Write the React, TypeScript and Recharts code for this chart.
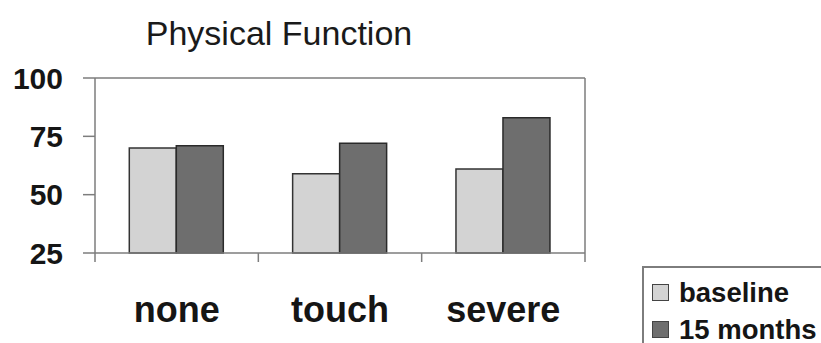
import React from 'react'
import { BarChart, Bar, XAxis, YAxis } from 'recharts'

const groups = ['none', 'touch', 'severe']
const baseline = [70, 59, 61]
const months15 = [71, 72, 83]
const yTicks = [25, 50, 75, 100]
const seriesNames = ['baseline', '15 months']
const seriesFills = ['#d3d3d3', '#6e6e6e']

const data = groups.map((g, i) => ({ group: g, baseline: baseline[i], months15: months15[i] }))

const FONT = '"Liberation Sans", Arial, Helvetica, sans-serif'
const AXIS = '#7d7d7d'
const LABEL_GAP = 43
const MARK_LEN = 9

// category label plus small tick marks at the band edges
function GroupTick(props: any) {
    const { x, y, payload, index, visibleTicksCount } = props
    const half = payload.offset || 0
    const axisY = y - LABEL_GAP
    const marks = [x - half]
    if (index === visibleTicksCount - 1) marks.push(x + half)
    return (
        <g>
            {marks.map((mx) => (
                <line key={mx} x1={mx} x2={mx} y1={axisY} y2={axisY + MARK_LEN} stroke={AXIS} strokeWidth={1.5} />
            ))}
            <text
                x={x}
                y={y}
                dy="0.71em"
                textAnchor="middle"
                fontFamily={FONT}
                fontWeight={700}
                fontSize={36}
                fill="#151515"
            >
                {payload.value}
            </text>
        </g>
    )
}

// legend box runs off the right and bottom edges, so only its top and left sides show
function LegendBox() {
    return (
        <div
            style={{
                position: 'absolute',
                left: 642,
                top: 266,
                width: 179,
                height: 77,
                borderTop: `2px solid ${AXIS}`,
                borderLeft: `2px solid ${AXIS}`,
                boxSizing: 'border-box',
                paddingTop: 6,
                paddingLeft: 8,
                fontFamily: FONT,
                fontWeight: 700,
                fontSize: 27.5,
                color: '#151515',
            }}
        >
            {seriesNames.map((name, i) => (
                <div key={name} style={{ display: 'flex', alignItems: 'center', height: 37, whiteSpace: 'nowrap' }}>
                    <span
                        style={{
                            display: 'inline-block',
                            flex: 'none',
                            width: 15,
                            height: 15,
                            background: seriesFills[i],
                            border: '1.5px solid #444',
                            marginRight: 10,
                        }}
                    />
                    <span>{name}</span>
                </div>
            ))}
        </div>
    )
}

export default function App() {
    return (
        <div style={{ position: 'absolute', left: 0, top: 0, width: 821, height: 343, overflow: 'hidden', background: '#fff' }}>
            <svg width={821} height={70} style={{ position: 'absolute', left: 0, top: 0 }}>
                <text x={279} y={45} textAnchor="middle" fontFamily={FONT} fontSize={34} fill="#1a1a1a">
                    Physical Function
                </text>
            </svg>
            <BarChart
                width={821}
                height={343}
                data={data}
                margin={{ top: 77, right: 235, bottom: 0, left: 0 }}
                barGap={0}
                barCategoryGap="21%"
            >
                <XAxis
                    dataKey="group"
                    height={90}
                    axisLine={{ stroke: AXIS, strokeWidth: 1.5 }}
                    tickLine={false}
                    tickSize={0}
                    tickMargin={LABEL_GAP}
                    interval={0}
                    tick={<GroupTick />}
                />
                {/* top border of the plot box */}
                <XAxis
                    xAxisId="top"
                    dataKey="group"
                    orientation="top"
                    height={1}
                    tick={false}
                    tickLine={false}
                    axisLine={{ stroke: AXIS, strokeWidth: 1.5 }}
                />
                <YAxis
                    domain={[25, 100]}
                    ticks={yTicks}
                    width={95}
                    tickSize={12}
                    tickMargin={20}
                    interval={0}
                    axisLine={{ stroke: AXIS, strokeWidth: 1.5 }}
                    tickLine={{ stroke: AXIS, strokeWidth: 1.5 }}
                    tick={{ fontFamily: FONT, fontWeight: 700, fontSize: 30, fill: '#151515' }}
                />
                {/* right border of the plot box */}
                <YAxis
                    yAxisId="right"
                    orientation="right"
                    domain={[25, 100]}
                    width={1}
                    tick={false}
                    tickLine={false}
                    axisLine={{ stroke: AXIS, strokeWidth: 1.5 }}
                />
                <Bar dataKey="baseline" name={seriesNames[0]} fill={seriesFills[0]} stroke="#333" strokeWidth={1.5} isAnimationActive={false} />
                <Bar dataKey="months15" name={seriesNames[1]} fill={seriesFills[1]} stroke="#2a2a2a" strokeWidth={1.5} isAnimationActive={false} />
            </BarChart>
            <LegendBox />
        </div>
    )
}
